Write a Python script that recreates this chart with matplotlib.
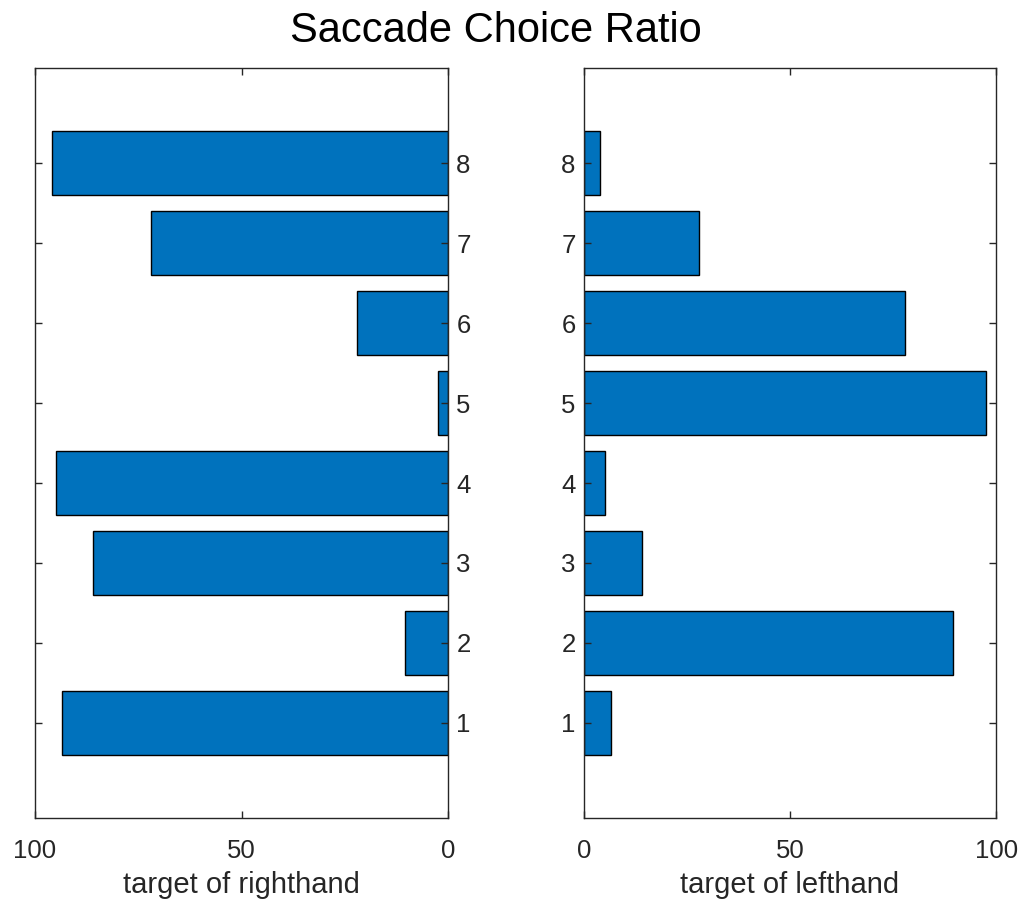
import numpy as np
import matplotlib
matplotlib.use("Agg")
import matplotlib.pyplot as plt

plt.rcParams['font.family'] = ['Liberation Sans', 'DejaVu Sans']

# escolha de sacada por alvo (%)
targets = [1, 2, 3, 4, 5, 6, 7, 8]
right_hand = [93.5, 10.5, 86, 95, 2.5, 22, 72, 96]
left_hand = [6.5, 89.5, 14, 5, 97.5, 78, 28, 4]

cor = '#0072BD'
cinza = '#262626'

fig = plt.figure(figsize=(10.29, 9.07), dpi=100)
ax1 = fig.add_axes([0.034, 0.0981, 0.4014, 0.8269])
ax2 = fig.add_axes([0.5675, 0.0981, 0.4005, 0.8269])

ax1.barh(targets, right_hand, height=0.8, color=cor, edgecolor='black', linewidth=1)
ax2.barh(targets, left_hand, height=0.8, color=cor, edgecolor='black', linewidth=1)

for ax in (ax1, ax2):
    ax.set_ylim(-0.19, 9.19)
    ax.set_yticks(targets)
    ax.set_xticks([0, 50, 100])
    ax.tick_params(direction='in', length=5, width=1, colors=cinza,
                   labelsize=18.5, top=True, right=True, left=True)
    ax.tick_params(axis='x', pad=15)
    ax.tick_params(axis='y', pad=6)
    for s in ax.spines.values():
        s.set_color(cinza)
        s.set_linewidth(1)

# lado esquerdo invertido, rótulos do y à direita
ax1.set_xlim(100, 0)
ax1.yaxis.tick_right()
ax1.yaxis.set_ticks_position('both')
ax1.tick_params(axis='y', labelleft=False, labelright=True)
ax1.set_xlabel('target of righthand', fontsize=21, color=cinza, labelpad=6)

ax2.set_xlim(0, 100)
ax2.yaxis.set_ticks_position('both')
ax2.tick_params(axis='y', labelleft=True, labelright=False)
ax2.set_xlabel('target of lefthand', fontsize=21, color=cinza, labelpad=6)

fig.text(0.482, 0.966, 'Saccade Choice Ratio', ha='center', va='center',
         fontsize=30, color='black')

plt.savefig('out.png', dpi=100)
